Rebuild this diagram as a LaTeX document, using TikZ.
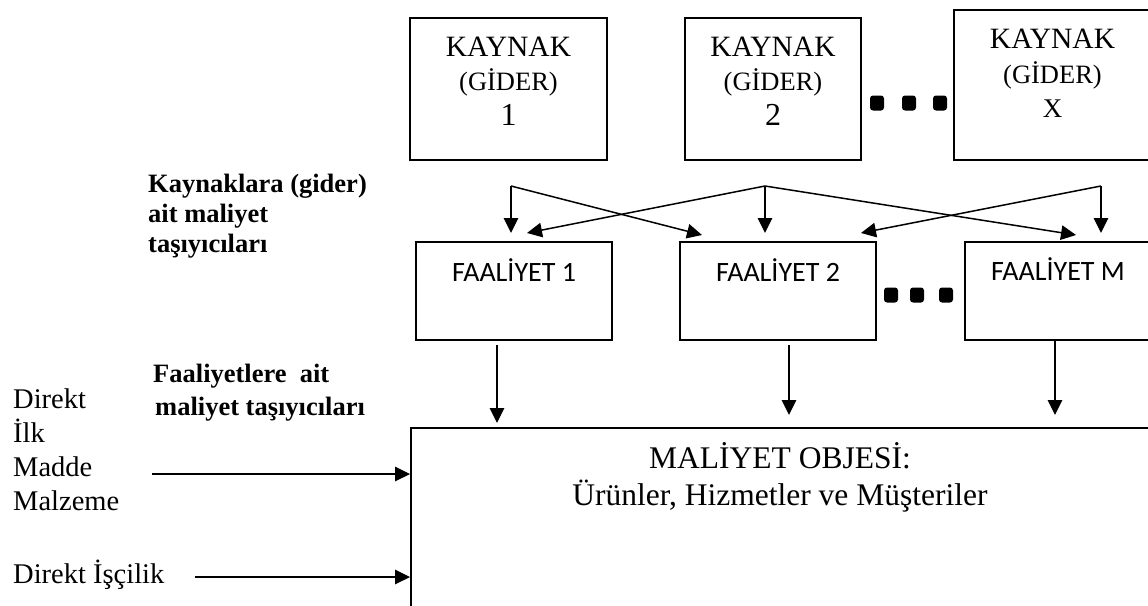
\documentclass[tikz,border=0pt]{standalone}
\usepackage{fontspec}
\setmainfont{Liberation Serif}
\newfontfamily\sansfont{Carlito}
\usetikzlibrary{arrows.meta}
\begin{document}
\begin{tikzpicture}[x=1pt,y=-1pt,
  box/.style={draw, line width=1.9pt, inner sep=0pt},
  arr/.style={line width=1.5pt, -{Triangle[length=15pt,width=14.5pt]}},
  dotbox/.style={fill, rounded corners=3pt, minimum width=14pt, minimum height=15pt, inner sep=0pt},
  txt/.style={anchor=base, inner sep=0pt},
  ltxt/.style={anchor=base west, inner sep=0pt},
  kfont/.style={font=\fontsize{29.5}{35}\selectfont},
  gfont/.style={font=\fontsize{26.5}{32}\selectfont},
  nfont/.style={font=\fontsize{32}{37}\selectfont},
  ffont/.style={font=\sansfont\fontsize{28}{34}\selectfont},
  bfont/.style={font=\bfseries\fontsize{26.5}{32}\selectfont},
  lfont/.style={font=\fontsize{28.5}{34}\selectfont},
  mfont/.style={font=\fontsize{31.5}{38}\selectfont}]
\useasboundingbox (0,0) rectangle (1148,605);
\clip (0,0) rectangle (1148,605);

% resource boxes
\node[box, minimum width=197pt, minimum height=142pt] (k1) at (508.5,89) {};
\node[box, minimum width=176pt, minimum height=142pt] (k2) at (773,89) {};
\node[box, minimum width=197pt, minimum height=150pt] (kx) at (1052.5,85) {};
\node[txt, kfont] (k1a) at (508.5,56) {KAYNAK};
\node[txt, gfont] (k1b) at (508.5,90) {(GİDER)};
\node[txt, nfont] (k1c) at (508.5,125) {1};
\node[txt, kfont] (k2a) at (773,56) {KAYNAK};
\node[txt, gfont] (k2b) at (773,90) {(GİDER)};
\node[txt, nfont] (k2c) at (773,125) {2};
\node[txt, kfont] (kxa) at (1052.5,48) {KAYNAK};
\node[txt, gfont] (kxb) at (1052.5,83) {(GİDER)};
\node[txt, font=\fontsize{27}{32}\selectfont] (kxc) at (1052.5,117) {X};
\node[dotbox] (kd1) at (877,103) {};
\node[dotbox] (kd2) at (909,103) {};
\node[dotbox] (kd3) at (940,103) {};

% activity boxes
\node[box, minimum width=196pt, minimum height=98pt] (f1) at (514,291) {};
\node[box, minimum width=196pt, minimum height=98pt] (f2) at (778,291) {};
\node[box, minimum width=186pt, minimum height=98pt] (fm) at (1058,291) {};
\node[txt, ffont] (f1t) at (514,281) {FAALİYET 1};
\node[txt, ffont] (f2t) at (778,281) {FAALİYET 2};
\node[txt, ffont] (fmt) at (1058,280) {FAALİYET M};
\node[dotbox] (fd1) at (891,295) {};
\node[dotbox] (fd2) at (917,295) {};
\node[dotbox] (fd3) at (946,295) {};

% cost object
\node[box, minimum width=738pt, minimum height=222pt] (mal) at (780,539) {};
\node[txt, mfont] (malt1) at (780,468) {MALİYET OBJESİ:};
\node[txt, mfont] (malt2) at (780,505) {Ürünler, Hizmetler ve Müşteriler};

% labels
\node[ltxt, bfont] (rc1) at (148,192) {Kaynaklara (gider)};
\node[ltxt, bfont] (rc2) at (148,222) {ait maliyet};
\node[ltxt, bfont] (rc3) at (148,252) {taşıyıcıları};
\node[ltxt, bfont] (ac1) at (153,382) {Faaliyetlere\ \ ait};
\node[ltxt, bfont] (ac2) at (155,415) {maliyet taşıyıcıları};
\node[ltxt, lfont] (dm1) at (13,408) {Direkt};
\node[ltxt, lfont] (dm2) at (13,442) {İlk};
\node[ltxt, lfont] (dm3) at (13,476) {Madde};
\node[ltxt, lfont] (dm4) at (13,510) {Malzeme};
\node[ltxt, lfont] (dl) at (13,583) {Direkt İşçilik};

% resource driver connectors
\coordinate (s1) at (511,186);
\coordinate (s2) at (765,186);
\coordinate (s3) at (1101,186);
\coordinate (t11) at (511,233);
\coordinate (t12) at (702,235);
\coordinate (t21) at (527,233);
\coordinate (t22) at (765,233);
\coordinate (t23) at (1076,235);
\coordinate (t31) at (861,233);
\coordinate (t32) at (1101,233);
\draw[arr] (s1) -- (t11);
\draw[arr] (s1) -- (t12);
\draw[arr] (s2) -- (t21);
\draw[arr] (s2) -- (t22);
\draw[arr] (s2) -- (t23);
\draw[arr] (s3) -- (t31);
\draw[arr] (s3) -- (t32);

% activity driver connectors
\coordinate (a1) at (497,345);
\coordinate (a2) at (789,345);
\coordinate (a3) at (1055,340);
\draw[arr] (a1) -- (497,423);
\draw[arr] (a2) -- (789,415);
\draw[arr] (a3) -- (1055,415);

% direct cost connectors
\coordinate (dmA) at (152,474);
\coordinate (dlA) at (195,577);
\draw[arr] (dmA) -- (dmA -| mal.west);
\draw[arr] (dlA) -- (dlA -| mal.west);
\end{tikzpicture}
\end{document}
